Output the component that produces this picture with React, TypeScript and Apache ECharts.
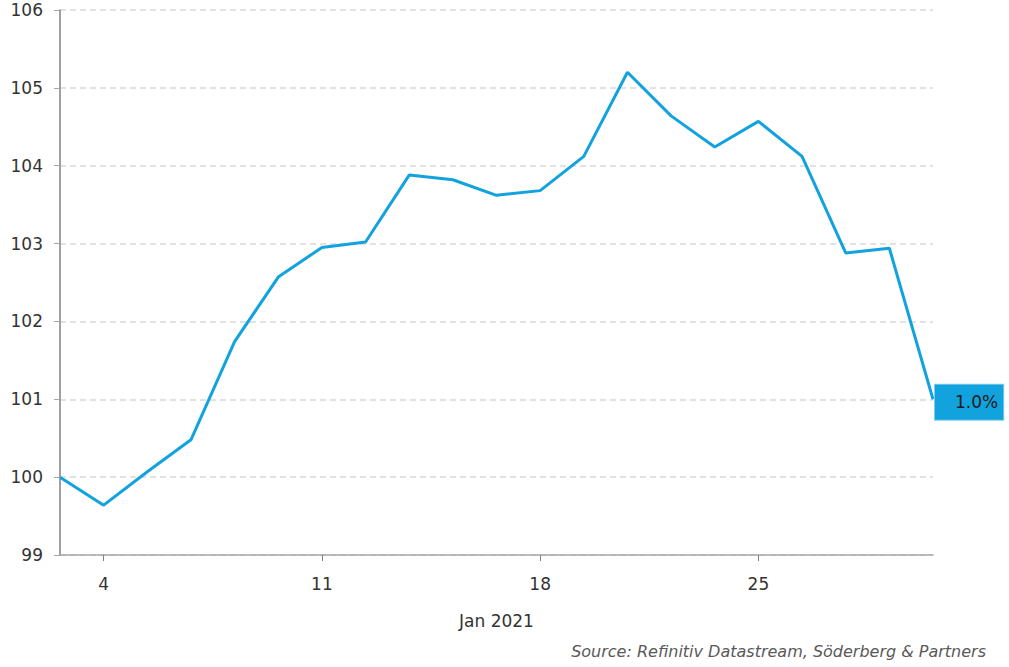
import React, { useEffect, useRef } from "react";
import * as echarts from "echarts";

const days = ["31", "4", "5", "6", "7", "8", "11", "12", "13", "14", "15", "18", "19", "20", "21", "22", "25", "26", "27", "28", "29"];
const values = [100.0, 99.64, 100.07, 100.48, 101.74, 102.57, 102.95, 103.02, 103.88, 103.82, 103.62, 103.68, 104.12, 105.2, 104.64, 104.24, 104.57, 104.12, 102.88, 102.94, 101.0];
const labelIdx = [1, 6, 11, 16];
const endText = "1.0%";
const axisName = "Jan 2021";
const sourceText = "Source: Refinitiv Datastream, Söderberg & Partners";

export default function App() {
  const ref = useRef<HTMLDivElement>(null);
  useEffect(() => {
    const chart = echarts.init(ref.current!, undefined, { renderer: "svg" });
    const font = "DejaVu Sans";
    chart.setOption({
      animation: false,
      grid: { left: 60, right: 76, top: 10, bottom: 112 },
      xAxis: {
        type: "category",
        data: days,
        boundaryGap: false,
        name: axisName,
        nameLocation: "middle",
        nameGap: 57,
        nameTextStyle: { color: "#333", fontSize: 17, fontFamily: font },
        axisLine: { lineStyle: { color: "#a6a6a6", width: 1.5 } },
        axisTick: { show: true, length: 6, interval: (i: number) => labelIdx.includes(i), lineStyle: { color: "#808080" } },
        axisLabel: {
          interval: (i: number) => labelIdx.includes(i),
          color: "#333",
          fontSize: 17,
          fontFamily: font,
          margin: 20,
        },
        splitLine: { show: false },
      },
      yAxis: {
        type: "value",
        min: 99,
        max: 106,
        interval: 1,
        axisLine: { show: true, lineStyle: { color: "#808080", width: 1.5 } },
        axisTick: { show: true, length: 6, lineStyle: { color: "#a6a6a6" } },
        axisLabel: { color: "#333", fontSize: 17, fontFamily: font, margin: 17 },
        splitLine: { show: true, lineStyle: { color: "#d9d9d9", type: [6, 4], width: 1.5 } },
      },
      series: [
        {
          type: "line",
          data: values,
          symbol: "none",
          lineStyle: { color: "#12a2dd", width: 3 },
          endLabel: {
            show: true,
            formatter: () => endText,
            backgroundColor: "#12a2dd",
            color: "#1a1a1a",
            fontSize: 17,
            fontFamily: font,
            padding: [9, 5, 9, 20],
            distance: 2,
            offset: [0, 3],
            borderColor: "#7fcdee",
            borderWidth: 1,
          },
        },
      ],
      graphic: [
        {
          type: "text",
          right: 23,
          top: 643,
          style: {
            text: sourceText,
            fill: "#595959",
            font: "italic 16px 'DejaVu Sans'",
          },
        },
      ],
    });
    return () => chart.dispose();
  }, []);
  return <div ref={ref} style={{ width: 1009, height: 667, position: "absolute", left: 0, top: 0 }} />;
}
